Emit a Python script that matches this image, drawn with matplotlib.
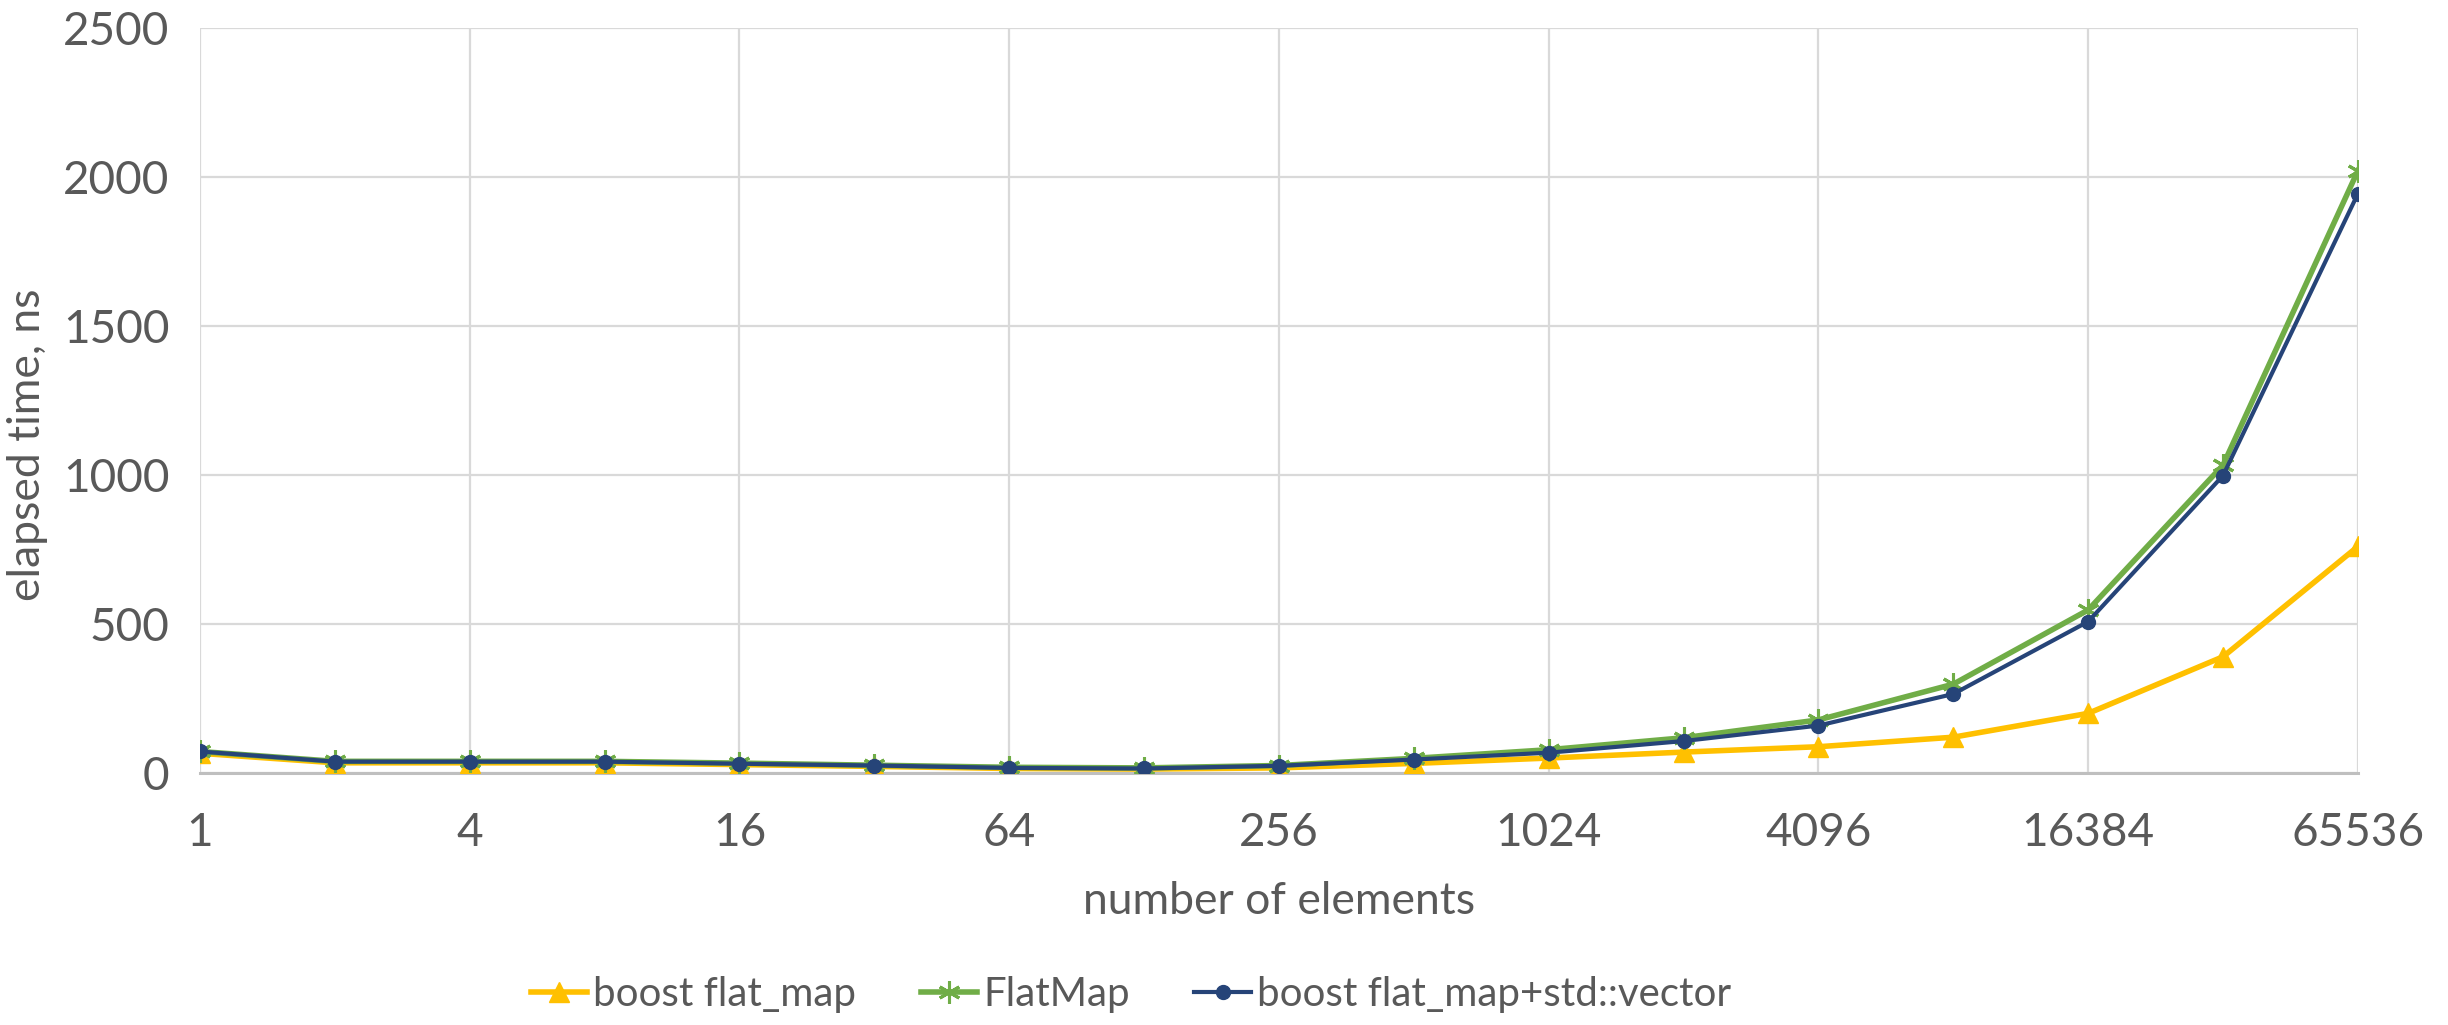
import numpy as np
import matplotlib.pyplot as plt

# number of elements: 1, 2, 4 ... 65536
n = [2 ** i for i in range(17)]

boost_flat_map = [66, 34, 34, 34, 28, 22, 15, 13, 17, 32, 50, 70, 88, 120, 200, 390, 760]
flat_map = [72, 39, 39, 39, 33, 26, 19, 17, 25, 49, 78, 118, 178, 298, 547, 1033, 2021]
boost_vector = [72, 38, 38, 38, 31, 25, 17, 15, 24, 45, 68, 107, 159, 265, 508, 998, 1944]

x_ticks = [1, 4, 16, 64, 256, 1024, 4096, 16384, 65536]
y_ticks = [0, 500, 1000, 1500, 2000, 2500]

plt.rcParams['font.family'] = ['Lato', 'DejaVu Sans']
grey = '#595959'

fig = plt.figure(figsize=(24.48, 10.25), dpi=100)
ax = fig.add_axes([0.0817, 0.2459, 0.8815, 0.7268])

ax.plot(n, boost_flat_map, color='#FFC000', linewidth=4, marker='^',
        markersize=14, label='boost flat_map', zorder=3)
ax.plot(n, flat_map, color='#70AD47', linewidth=4, marker=(6, 2, 0),
        markersize=16, markeredgewidth=2.2, label='FlatMap', zorder=4)
ax.plot(n, boost_vector, color='#264478', linewidth=3, marker='o',
        markersize=10, label='boost flat_map+std::vector', zorder=5)

ax.set_xscale('log', base=2)
ax.set_xlim(1, 65536)
ax.set_ylim(0, 2500)
ax.set_xticks(x_ticks)
ax.set_xticklabels([str(v) for v in x_ticks])
ax.set_yticks(y_ticks)
ax.xaxis.set_minor_locator(plt.NullLocator())

ax.grid(True, color='#D9D9D9', linewidth=1.6)
ax.set_axisbelow(True)
for s in ['top', 'right', 'left']:
    ax.spines[s].set_visible(False)
ax.spines['bottom'].set_color('#BFBFBF')
ax.spines['bottom'].set_linewidth(2.2)
ax.tick_params(length=0, labelsize=33, labelcolor=grey)
ax.tick_params(axis='x', pad=28)
ax.tick_params(axis='y', pad=22)

ax.set_xlabel('number of elements', fontsize=32, color=grey)
ax.set_ylabel('elapsed time, ns', fontsize=32, color=grey)
ax.xaxis.label.set_va('center')
ax.xaxis.set_label_coords(0.5, -0.173)
ax.yaxis.label.set_va('center')
ax.yaxis.set_label_coords(-0.08, 0.44)

fig.legend(loc='center', bbox_to_anchor=(0.462, 0.03), ncol=3, frameon=False,
           fontsize=29, labelcolor=grey, handlelength=1.4, handletextpad=0.15,
           columnspacing=1.6)

fig.savefig('out.png', dpi=100)
